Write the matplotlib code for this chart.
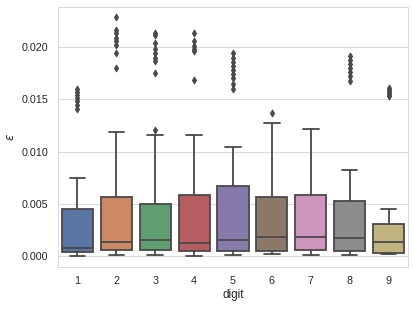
import colorsys
import matplotlib
matplotlib.use("Agg")
import matplotlib.pyplot as plt
import seaborn as sns

digits = ["1", "2", "3", "4", "5", "6", "7", "8", "9"]

# box statistics
whislo = [0.0000, 0.0001, 0.0001, 0.0000, 0.00013, 0.00016, 0.00013, 0.00013, 0.00016]
q1 = [0.00035, 0.00058, 0.00055, 0.00051, 0.00048, 0.00048, 0.00055, 0.00048, 0.00032]
med = [0.00074, 0.00135, 0.00151, 0.00125, 0.0015, 0.0018, 0.00186, 0.00176, 0.00138]
q3 = [0.00449, 0.00564, 0.00497, 0.0058, 0.0067, 0.00564, 0.00587, 0.00522, 0.0031]
whishi = [0.0075, 0.01185, 0.01157, 0.01157, 0.0104, 0.0127, 0.0122, 0.0082, 0.00452]
fliers = [
    [0.0141, 0.0145, 0.0148, 0.0151, 0.0154, 0.0157, 0.0160],
    [0.0180, 0.0194, 0.0202, 0.0206, 0.0209, 0.0214, 0.02166, 0.02285],
    [0.0121, 0.0175, 0.0187, 0.0190, 0.0194, 0.0198, 0.0204, 0.0212, 0.0214],
    [0.01686, 0.0196, 0.0198, 0.0201, 0.0206, 0.0214],
    [0.0160, 0.0165, 0.0170, 0.0174, 0.0178, 0.0182, 0.0186, 0.0190, 0.0194],
    [0.0137],
    [],
    [0.0168, 0.0172, 0.0176, 0.0180, 0.0184, 0.0188, 0.0192],
    [0.0153, 0.0155, 0.0157, 0.0159, 0.0161],
]

sns.set_style("whitegrid")
plt.rcParams["font.family"] = ["Liberation Sans", "DejaVu Sans"]

colores = sns.color_palette("deep", 9, desat=0.75)
lum = min(colorsys.rgb_to_hls(*c)[1] for c in colores) * 0.6
gris = (lum, lum, lum)

stats = []
for i in range(len(digits)):
    stats.append({"med": med[i], "q1": q1[i], "q3": q3[i],
                  "whislo": whislo[i], "whishi": whishi[i],
                  "fliers": fliers[i], "label": digits[i]})

fig = plt.figure(figsize=(6.4, 4.766), dpi=64.84)
ax = fig.add_axes([58 / 415, 42 / 309, 350 / 415, 260 / 309])

lw = 2.0
bp = ax.bxp(stats, positions=range(len(digits)), widths=0.8, patch_artist=True,
            boxprops=dict(edgecolor=gris, linewidth=lw),
            whiskerprops=dict(color=gris, linewidth=lw),
            capprops=dict(color=gris, linewidth=lw),
            medianprops=dict(color=gris, linewidth=lw),
            flierprops=dict(marker="d", markerfacecolor=gris, markeredgecolor=gris,
                            markersize=5.5, linestyle="none"))
for caja, c in zip(bp["boxes"], colores):
    caja.set_facecolor(c)

ax.set_xlim(-0.5, 8.5)
ax.set_ylim(-0.00106, 0.02385)
ax.set_yticks([0.0, 0.005, 0.010, 0.015, 0.020])
ax.set_yticklabels(["0.000", "0.005", "0.010", "0.015", "0.020"])
ax.set_xticks(range(len(digits)))
ax.set_xticklabels(digits)
ax.tick_params(labelsize=12, pad=7)
ax.xaxis.grid(False)
ax.set_xlabel("digit", fontsize=13, labelpad=3)
ax.set_ylabel("$\\varepsilon$", fontsize=13, labelpad=5)

fig.savefig("out.png", dpi=64.84)
